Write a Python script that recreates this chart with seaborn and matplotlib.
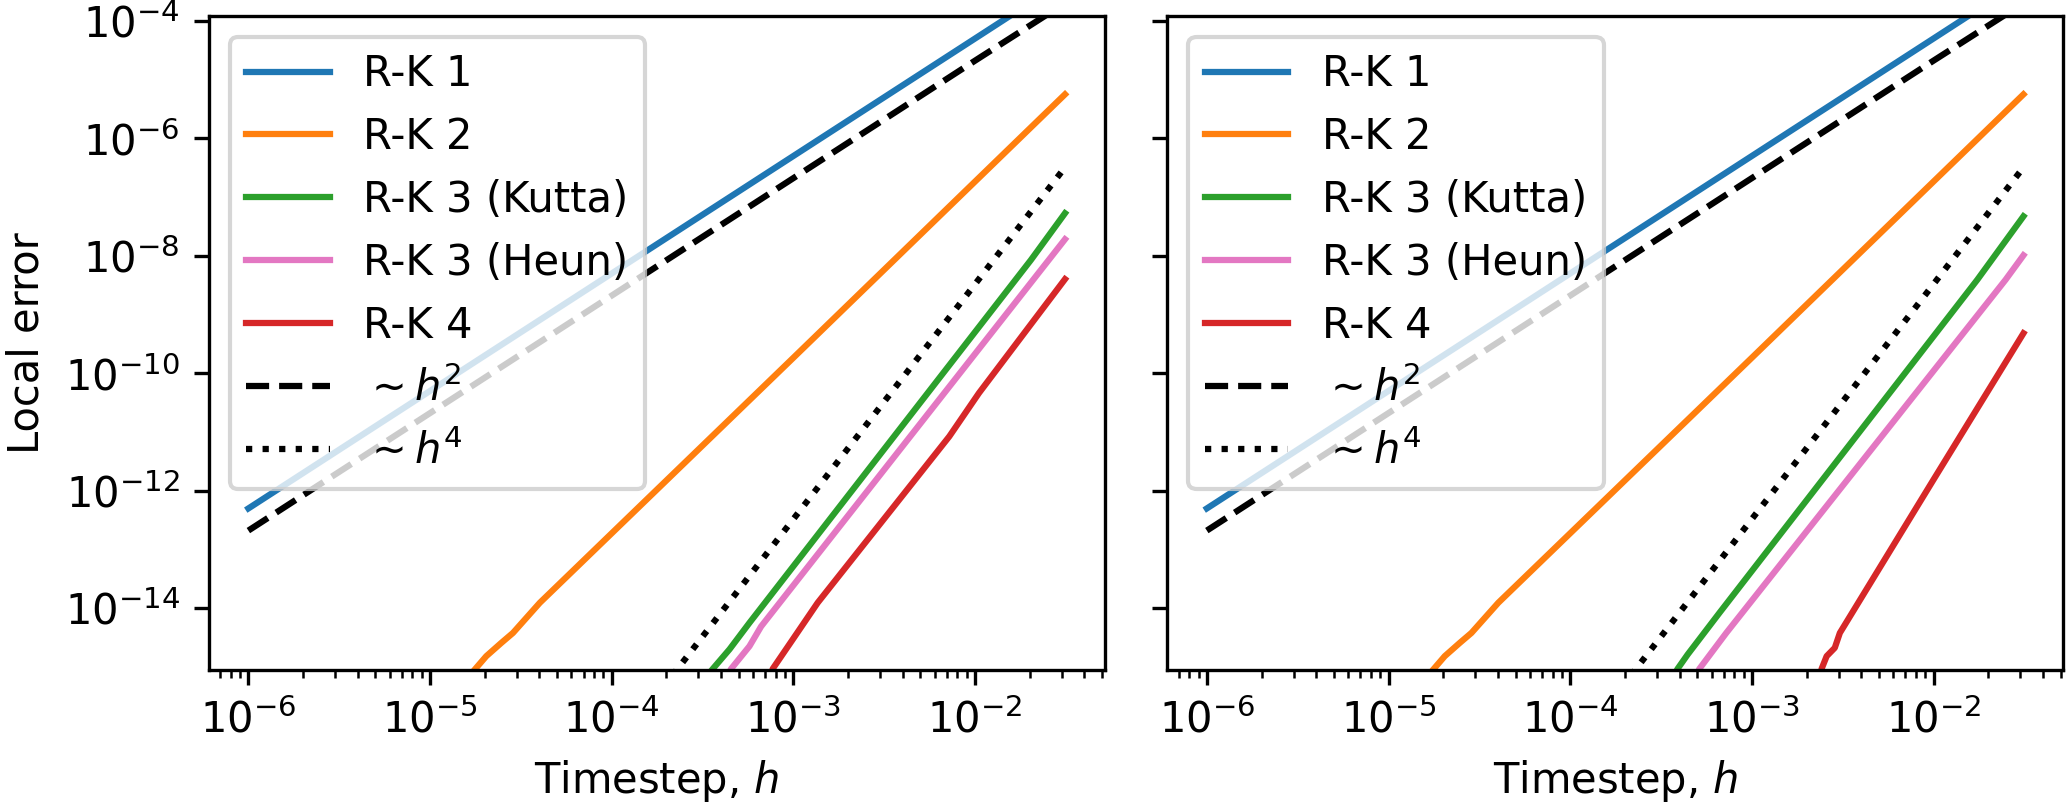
import numpy as np
import pandas as pd
import matplotlib
matplotlib.use("Agg")
import matplotlib.pyplot as plt
import seaborn as sns
from matplotlib.ticker import NullLocator

# values (h, local error)
h_ref = [1e-6, 1e-5, 1e-4, 1e-3, 1e-2, 3.125e-2]
err_rk1 = [5.0e-13, 5.0e-11, 5.0e-9, 5.0e-7, 5.0e-5, 4.9e-4]
err_h2 = [2.1e-13, 2.1e-11, 2.1e-9, 2.1e-7, 2.1e-5, 2.0e-4]

h_h4 = [1e-4, 1e-3, 1e-2, 3.125e-2]
err_h4 = [3.3e-17, 3.3e-13, 3.3e-9, 3.2e-7]

h_rk2 = [1.5e-5, 1.76e-5, 2.04e-5, 2.47e-5, 2.86e-5, 4.02e-5, 1e-3, 3.125e-2]
err_rk2 = [5.0e-16, 9.0e-16, 1.53e-15, 2.58e-15, 3.8e-15, 1.24e-14, 1.84e-10, 5.6e-6]

# left panel
h_kutta_a = [3.06e-4, 3.6e-4, 4.45e-4, 5.73e-4, 2.03e-2, 3.125e-2]
err_kutta_a = [5.0e-16, 9.3e-16, 2.0e-15, 5.65e-15, 8.5e-9, 5.3e-8]
h_heun_a = [4.0e-4, 4.54e-4, 5.73e-4, 6.64e-4, 3.125e-2]
err_heun_a = [4.5e-16, 9.3e-16, 2.26e-15, 4.9e-15, 1.91e-8]
h_rk4_a = [7.3e-4, 7.69e-4, 9.91e-4, 1.36e-3, 7.21e-3, 1.05e-2, 3.125e-2]
err_rk4_a = [4.0e-16, 9.3e-16, 2.94e-15, 1.24e-14, 8.4e-12, 4.6e-11, 4.0e-9]

# right panel
h_kutta_b = [3.5e-4, 3.9e-4, 4.43e-4, 6.64e-4, 1.74e-2, 3.125e-2]
err_kutta_b = [5.0e-16, 9.3e-16, 1.63e-15, 8.4e-15, 3.9e-9, 4.7e-8]
h_heun_b = [4.6e-4, 5.14e-4, 7.23e-4, 2.49e-2, 3.125e-2]
err_heun_b = [4.5e-16, 9.3e-16, 3.8e-15, 3.9e-9, 1.02e-8]
h_rk4_b = [2.35e-3, 2.42e-3, 2.58e-3, 2.86e-3, 3.05e-3, 3.47e-3, 1e-2, 3.125e-2]
err_rk4_b = [5.0e-16, 9.3e-16, 1.53e-15, 2.12e-15, 3.8e-15, 7.3e-15, 1.55e-12, 4.8e-10]

colors = {"R-K 1": "#1f77b4", "R-K 2": "#ff7f0e", "R-K 3 (Kutta)": "#2ca02c",
          "R-K 3 (Heun)": "#e377c2", "R-K 4": "#d62728"}


def draw_panel(ax, kutta, heun, rk4):
    series = [
        ("R-K 1", h_ref, err_rk1),
        ("R-K 2", h_rk2, err_rk2),
        ("R-K 3 (Kutta)", kutta[0], kutta[1]),
        ("R-K 3 (Heun)", heun[0], heun[1]),
        ("R-K 4", rk4[0], rk4[1]),
    ]
    for name, hs, es in series:
        df = pd.DataFrame({"h": hs, "err": es})
        sns.lineplot(data=df, x="h", y="err", ax=ax, color=colors[name],
                     label=name, linewidth=1.5, errorbar=None)
    sns.lineplot(x=h_ref, y=err_h2, ax=ax, color="k", linestyle="--",
                 label=r"$\sim h^2$", linewidth=1.5, errorbar=None)
    sns.lineplot(x=h_h4, y=err_h4, ax=ax, color="k", linestyle=":",
                 label=r"$\sim h^4$", linewidth=1.5, errorbar=None)
    ax.set_xscale("log")
    ax.set_yscale("log")
    ax.set_xlim(6.07e-7, 5.19e-2)
    ax.set_ylim(8.9e-16, 1.22e-4)
    ax.set_xlabel("Timestep, $h$")
    ax.legend(loc="upper left")


fig = plt.figure(figsize=(6.89, 2.69), dpi=300)
ax1 = fig.add_axes([0.1011, 0.1698, 0.4335, 0.8107])
ax2 = fig.add_axes([0.5648, 0.1698, 0.4335, 0.8107], sharey=ax1)

draw_panel(ax1, (h_kutta_a, err_kutta_a), (h_heun_a, err_heun_a), (h_rk4_a, err_rk4_a))
draw_panel(ax2, (h_kutta_b, err_kutta_b), (h_heun_b, err_heun_b), (h_rk4_b, err_rk4_b))

ax1.set_ylabel("Local error")
ax2.set_ylabel("")
ax2.tick_params(labelleft=False)
ax1.yaxis.set_minor_locator(NullLocator())

fig.savefig("out.png", dpi=300)
